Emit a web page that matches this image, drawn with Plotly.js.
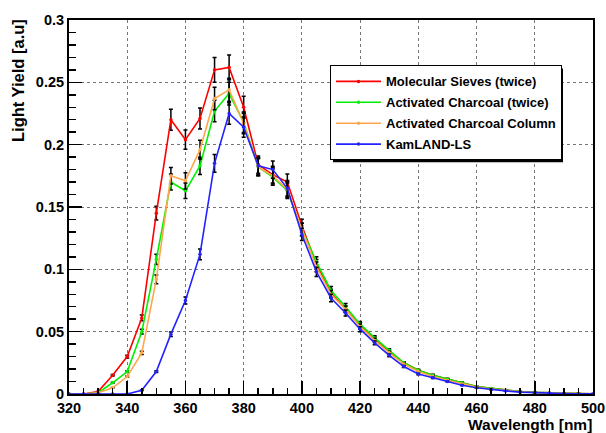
<!DOCTYPE html>
<html>
<head>
<meta charset="utf-8">
<script src="https://cdn.plot.ly/plotly-3.0.1.min.js"></script>
<style>html,body{margin:0;padding:0;background:#fff;}#chart{width:606px;height:433px;}</style>
</head>
<body>
<div id="chart"></div>
<script>
const wavelength = [320,325,330,335,340,345,350,355,360,365,370,375,380,385,390,395,400,405,410,415,420,425,430,435,440,445,450,455,460,465,470,475,480,485,490,495,500];

const molecularSieves = [0,0,0.002,0.015,0.030,0.061,0.145,0.220,0.204,0.221,0.260,0.262,0.230,0.184,0.176,0.170,0.135,0.104,0.081,0.068,0.055,0.044,0.034,0.025,0.019,0.015,0.012,0.009,0.006,0.0045,0.003,0.002,0.0013,0.0008,0.0005,0.0003,0.0002];
const activatedCharcoal = [0,0,0.001,0.009,0.018,0.050,0.108,0.170,0.163,0.183,0.227,0.241,0.218,0.182,0.174,0.163,0.132,0.106,0.083,0.070,0.056,0.045,0.035,0.025,0.019,0.015,0.012,0.009,0.006,0.0045,0.003,0.002,0.0013,0.0008,0.0005,0.0003,0.0002];
const charcoalColumn = [0,0,0.001,0.005,0.014,0.033,0.092,0.175,0.171,0.196,0.237,0.244,0.217,0.182,0.175,0.164,0.132,0.102,0.080,0.068,0.054,0.043,0.033,0.024,0.018,0.014,0.011,0.008,0.0055,0.004,0.0028,0.0018,0.0012,0.0008,0.0005,0.0003,0.0002];
const kamlandLS = [0,0,0,0,0,0.003,0.018,0.048,0.075,0.112,0.185,0.225,0.214,0.183,0.180,0.165,0.128,0.098,0.077,0.065,0.052,0.041,0.031,0.022,0.016,0.013,0.010,0.007,0.005,0.0035,0.0025,0.0015,0.001,0.0006,0.0004,0.0002,0.0001];

const seriesNames = ["Molecular Sieves (twice)","Activated Charcoal (twice)","Activated Charcoal Column","KamLAND-LS"];
const seriesColors = ["#ff0000","#00f000","#ffa64d","#2222ff"];
const seriesValues = [molecularSieves, activatedCharcoal, charcoalColumn, kamlandLS];
const errorPercent = 3.8;

const traces = seriesValues.map((vals, i) => ({
  x: wavelength,
  y: vals,
  type: 'scatter',
  mode: 'lines+markers',
  name: seriesNames[i],
  legendgroup: 'g' + i,
  line: {color: seriesColors[i], width: 1.6},
  marker: {color: seriesColors[i], size: 3.5},
  error_y: {type: 'percent', value: errorPercent, color: '#000', thickness: 1.5, width: 2}
}));

// pixel helpers for paper coords
const L = 69, R = 593, T = 19.5, B = 394;
const px = v => (v - L) / (R - L);
const py = v => (B - v) / (B - T);

const tickFont = {family: 'Liberation Sans, Arial, sans-serif', size: 14.5, weight: 'bold', color: '#000'};
const titleFont = {family: 'Liberation Sans, Arial, sans-serif', size: 15.5, weight: 'bold', color: '#000'};

const layout = {
  width: 606, height: 433,
  margin: {l: L, r: 606 - R, t: T, b: 433 - B},
  paper_bgcolor: '#fff', plot_bgcolor: '#fff',
  showlegend: true,
  xaxis: {
    range: [320, 500], tick0: 320, dtick: 20,
    ticks: 'inside', ticklen: 13, tickwidth: 1.5, tickcolor: '#000',
    showline: true, linewidth: 2, linecolor: '#000', mirror: true,
    showgrid: true, gridcolor: '#777', griddash: 'dot', gridwidth: 1,
    zeroline: false, tickfont: tickFont,
    minor: {dtick: 5, ticks: 'inside', ticklen: 6, tickwidth: 1.5, tickcolor: '#000', showgrid: false}
  },
  yaxis: {
    range: [0, 0.3], tick0: 0, dtick: 0.05,
    ticks: 'inside', ticklen: 13, tickwidth: 1.5, tickcolor: '#000',
    showline: true, linewidth: 2, linecolor: '#000', mirror: true,
    showgrid: true, gridcolor: '#777', griddash: 'dot', gridwidth: 1,
    zeroline: false, tickfont: tickFont,
    minor: {dtick: 0.01, ticks: 'inside', ticklen: 7, tickwidth: 1.5, tickcolor: '#000', showgrid: false}
  },
  legend: {
    x: px(330), y: py(65), xanchor: 'left', yanchor: 'top',
    bgcolor: '#fff', bordercolor: '#000', borderwidth: 1,
    font: {family: 'Liberation Sans, Arial, sans-serif', size: 13, weight: 'bold', color: '#000'},
    traceorder: 'grouped', tracegroupgap: 1, itemwidth: 45
  },
  shapes: [{
    type: 'rect', xref: 'paper', yref: 'paper', layer: 'above',
    x0: px(333), x1: px(563), y0: py(68), y1: py(162),
    fillcolor: '#000', line: {width: 0}
  }],
  annotations: [
    {text: 'Light Yield [a.u]', xref: 'paper', yref: 'paper', x: px(18), y: py(17),
     xanchor: 'center', yanchor: 'top', textangle: -90, showarrow: false, font: {...titleFont, size: 16.5}},
    {text: 'Wavelength [nm]', xref: 'paper', yref: 'paper', x: px(594), y: py(435),
     xanchor: 'right', yanchor: 'bottom', showarrow: false, font: titleFont}
  ]
};

Plotly.newPlot('chart', traces, layout, {displayModeBar: false, staticPlot: true});
</script>
</body>
</html>
